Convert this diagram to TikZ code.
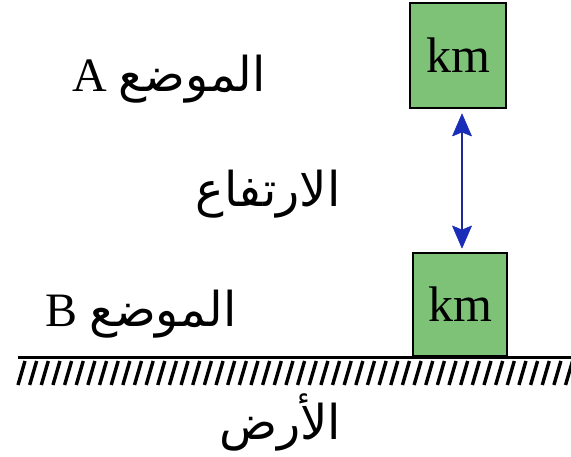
\documentclass[tikz,border=0pt]{standalone}
\usepackage{fontspec}
\setmainfont{Liberation Serif}
\newfontfamily\arabicfont[Script=Arabic]{DejaVu Sans}
\TeXXeTstate=1
\definecolor{boxgreen}{RGB}{125,194,118}
\definecolor{arrowblue}{RGB}{25,45,185}
\definecolor{shaftblue}{RGB}{30,40,150}
\tikzset{
  mass/.style={draw=black, line width=2pt, fill=boxgreen, inner sep=0pt, font=\fontsize{50}{54}\selectfont},
  lbl/.style={inner sep=0pt, font=\fontsize{48}{52}\selectfont},
  hatch/.style={line width=3.4pt},
  head/.style={fill=arrowblue, draw=arrowblue, line width=0.6pt, line join=round},
}
\begin{document}
\begin{tikzpicture}[x=1pt,y=1pt]
\useasboundingbox (0,0) rectangle (571,457);
% ground
\coordinate (gl) at (18,99.5);
\coordinate (gr) at (571,99.5);
\draw[line width=3pt] (gl) -- (gr);
\foreach \i in {0,...,47} {
  \draw[hatch] (25+11.65*\i,96) -- (18+11.65*\i,72);
}
% boxes
\node[mass, minimum width=96pt, minimum height=105pt] (A) at (458,401.5) {km};
\node[mass, minimum width=94pt, minimum height=103pt] (B) at (460,152.5) {km};
% arrow
\coordinate (t1) at ([xshift=4pt,yshift=-5pt]A.south);
\coordinate (t2) at ([xshift=2pt,yshift=4pt]B.north);
\draw[shaftblue, line width=2.4pt] ([yshift=-15pt]t1) -- ([yshift=15pt]t2);
\draw[head] (t1) -- ++(-9.5,-22) -- ++(9.5,4) -- ++(9.5,-4) -- cycle;
\draw[head] (t2) -- ++(-9.5,22) -- ++(9.5,-4) -- ++(9.5,4) -- cycle;
% labels
\node[lbl, anchor=base] (la) at (169,365) {A {\arabicfont\beginR الموضع\endR}};
\node[lbl, anchor=base] (lh) at (268,250) {\arabicfont\beginR الارتفاع\endR};
\node[lbl, anchor=base] (lb) at (141,130) {B {\arabicfont\beginR الموضع\endR}};
\node[lbl, anchor=base] (lg) at (280,17) {\arabicfont\beginR الأرض\endR};
\end{tikzpicture}
\end{document}
